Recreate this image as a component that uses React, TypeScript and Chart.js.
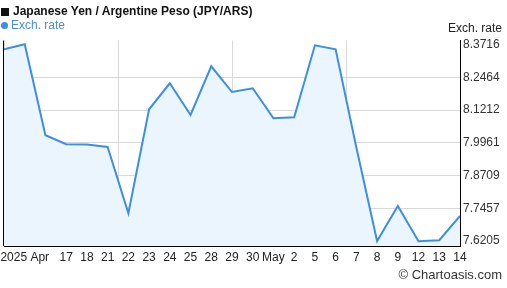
import React, { useEffect, useRef } from "react";
import { Chart, registerables } from "chart.js";

Chart.register(...registerables);

const xLabels = ["", "2025 Apr", "", "17", "18", "21", "22", "23", "24", "25", "28", "29", "30", "May", "2", "5", "6", "7", "8", "9", "12", "13", "14"];
const rates = [8.3534, 8.3726, 8.0248, 7.9904, 7.9900, 7.9800, 7.7266, 8.1241, 8.2235, 8.1023, 8.2885, 8.1902, 8.2044, 8.0897, 8.0936, 8.3687, 8.3534, 7.9780, 7.6208, 7.7545, 7.6198, 7.6236, 7.7163];
const yTicks = [7.6205, 7.7457, 7.8709, 7.9961, 8.1212, 8.2464, 8.3716];
const vGrid = [0, 5.5, 11, 16.5, 22];
const yMin = 7.6016;
const yMax = 8.3871;

const FONT = "'Liberation Sans', Arial, sans-serif";

const leftBorder = {
  id: "leftBorder",
  afterDraw(chart: any) {
    const { ctx, chartArea } = chart;
    ctx.save();
    ctx.strokeStyle = "#000";
    ctx.lineWidth = 1;
    ctx.beginPath();
    ctx.moveTo(chartArea.left - 0.5, chartArea.top);
    ctx.lineTo(chartArea.left - 0.5, chartArea.bottom);
    ctx.stroke();
    ctx.restore();
  },
};

export default function App() {
  const ref = useRef<HTMLCanvasElement>(null);
  useEffect(() => {
    if (!ref.current) return;
    const chart = new Chart(ref.current, {
      type: "line",
      data: {
        datasets: [
          {
            label: "Exch. rate",
            data: rates.map((v, i) => ({ x: i, y: v })),
            borderColor: "#3d8ee6",
            backgroundColor: "rgba(234,245,254,1)",
            borderWidth: 2,
            pointRadius: 0,
            tension: 0,
            fill: "start",
            xAxisID: "x",
            yAxisID: "y",
          },
        ],
      },
      plugins: [leftBorder],
      options: {
        responsive: false,
        animation: false,
        layout: { padding: { top: 40.5, left: 1, right: 0, bottom: 0 } },
        plugins: { legend: { display: false }, tooltip: { enabled: false }, title: { display: false } },
        scales: {
          x: {
            type: "linear",
            position: "bottom",
            min: 0,
            max: 22,
            afterBuildTicks: (s: any) => {
              s.ticks = xLabels.map((_, i) => ({ value: i }));
            },
            afterFit: (s: any) => {
              s.height = 42;
            },
            ticks: {
              autoSkip: false,
              maxRotation: 0,
              minRotation: 0,
              padding: 4,
              color: "#222",
              font: { family: FONT, size: 12 },
              callback: (v: any) => xLabels[v] ?? "",
            },
            grid: { display: false, drawTicks: false },
            border: { display: true, color: "#000", width: 1 },
          },
          x2: {
            type: "linear",
            position: "bottom",
            min: 0,
            max: 22,
            afterBuildTicks: (s: any) => {
              s.ticks = vGrid.map((v) => ({ value: v }));
            },
            afterFit: (s: any) => {
              s.height = 0;
            },
            ticks: { display: false },
            grid: { display: true, drawTicks: false, color: "#d9d9d9", lineWidth: 1 },
            border: { display: false },
          },
          y: {
            type: "linear",
            position: "right",
            min: yMin,
            max: yMax,
            afterBuildTicks: (s: any) => {
              s.ticks = yTicks.map((v) => ({ value: v }));
            },
            afterFit: (s: any) => {
              s.width = 47;
            },
            ticks: {
              padding: 3,
              color: "#333",
              font: { family: FONT, size: 12 },
              callback: (v: any) => Number(v).toFixed(4),
            },
            grid: {
              drawTicks: false,
              color: (c: any) => (c.index === 0 || c.index === yTicks.length - 1 ? "rgba(0,0,0,0)" : "#d9d9d9"),
            },
            border: { display: true, color: "#000", width: 1 },
          },
        },
      },
    });
    return () => chart.destroy();
  }, []);

  return (
    <div style={{ position: "fixed", left: 0, top: 0, width: 507, height: 288, background: "#fff", fontFamily: FONT }}>
      <canvas ref={ref} width={507} height={288} style={{ position: "absolute", left: 0, top: 0, width: 507, height: 288 }} />
      <div style={{ position: "absolute", left: 1, top: 8, width: 8, height: 8, background: "#111" }} />
      <div style={{ position: "absolute", left: 13, top: 4, fontSize: 12, lineHeight: "14px", fontWeight: "bold", color: "#111", whiteSpace: "nowrap" }}>
        Japanese Yen / Argentine Peso (JPY/ARS)
      </div>
      <div style={{ position: "absolute", left: 1, top: 22, width: 7, height: 7, borderRadius: "50%", background: "#3d8ee6" }} />
      <div style={{ position: "absolute", left: 11, top: 18, fontSize: 12, lineHeight: "14px", color: "#4a90d9", whiteSpace: "nowrap" }}>
        Exch. rate
      </div>
      <div style={{ position: "absolute", right: 5, top: 21, fontSize: 12, lineHeight: "14px", color: "#222", whiteSpace: "nowrap" }}>
        Exch. rate
      </div>
      <div style={{ position: "absolute", right: 5, top: 267, fontSize: 13, lineHeight: "15px", color: "#333", whiteSpace: "nowrap" }}>
        © Chartoasis.com
      </div>
    </div>
  );
}
